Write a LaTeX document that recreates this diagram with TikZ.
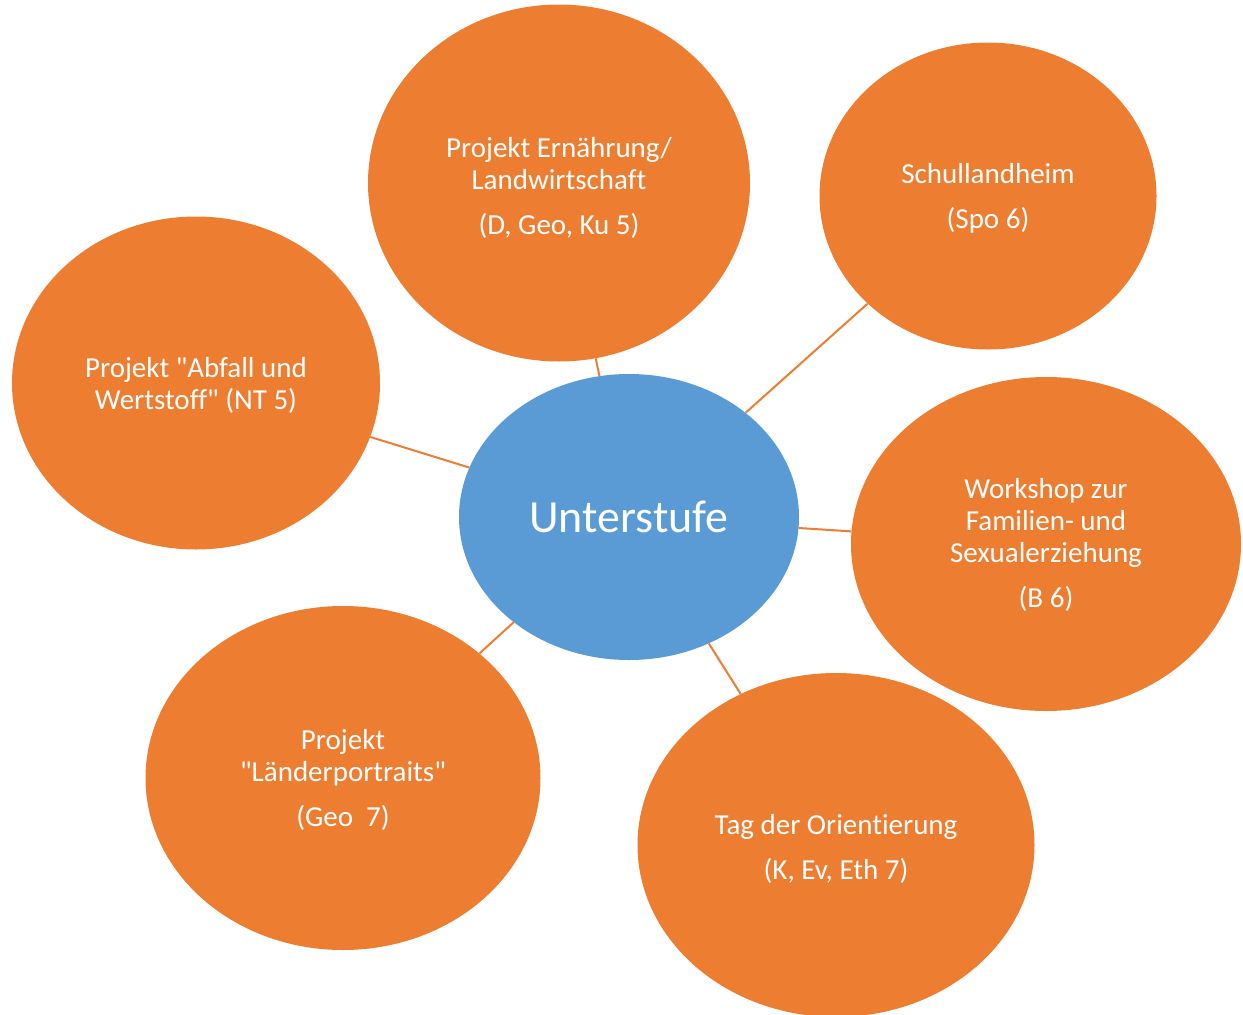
\documentclass[tikz,border=0pt]{standalone}
\usepackage{fontspec}
\setmainfont[Ligatures={NoCommon}]{Carlito}
\usetikzlibrary{shapes.geometric}
\definecolor{orng}{HTML}{ED7D31}
\definecolor{blu}{HTML}{5B9BD5}
\tikzset{
  bubble/.style={ellipse, fill=orng, draw=none, inner sep=0pt},
  hub/.style={ellipse, fill=blu, draw=none, inner sep=0pt, text=white, align=center,
    font=\fontsize{46}{50}\selectfont},
  btext/.style={inner sep=0pt, text=white, align=center, font=\fontsize{29}{32}\selectfont},
  link/.style={draw=orng, line width=2pt}
}
\newcommand{\qd}{\textquotedbl}
\begin{document}
\begin{tikzpicture}[x=1pt,y=-1pt]
\useasboundingbox (0,0) rectangle (1243,1015);
\node[hub, minimum width=340pt, minimum height=286pt] (u) at (629,517) {Unterstufe};
\node[bubble, minimum width=382pt, minimum height=357pt] (a) at (559,183) {};
\node[bubble, minimum width=337pt, minimum height=307pt] (b) at (988,196) {};
\node[bubble, minimum width=390pt, minimum height=334pt] (c) at (1046,544) {};
\node[bubble, minimum width=397pt, minimum height=344pt] (d) at (836,845) {};
\node[bubble, minimum width=395pt, minimum height=344pt] (e) at (343,778) {};
\node[bubble, minimum width=368pt, minimum height=333pt] (f) at (196,383) {};
\node[btext] (ta) at (559,188) {Projekt Ernährung/\\Landwirtschaft\\[13pt](D, Geo, Ku 5)};
\node[btext] (tb) at (988,198) {Schullandheim\\[13pt](Spo 6)};
\node[btext] (tc) at (1046,545) {Workshop zur\\Familien- und\\Sexualerziehung\\[13pt](B 6)};
\node[btext] (td) at (836,849) {Tag der Orientierung\\[13pt](K, Ev, Eth 7)};
\node[btext] (te) at (343,780) {Projekt\\\qd Länderportraits\qd\\[13pt](Geo~~7)};
\node[btext] (tf) at (196,385) {Projekt \qd Abfall und\\Wertstoff\qd{} (NT 5)};
\foreach \n in {a,b,c,d,e,f} \draw[link] (u) -- (\n);
\end{tikzpicture}
\end{document}
